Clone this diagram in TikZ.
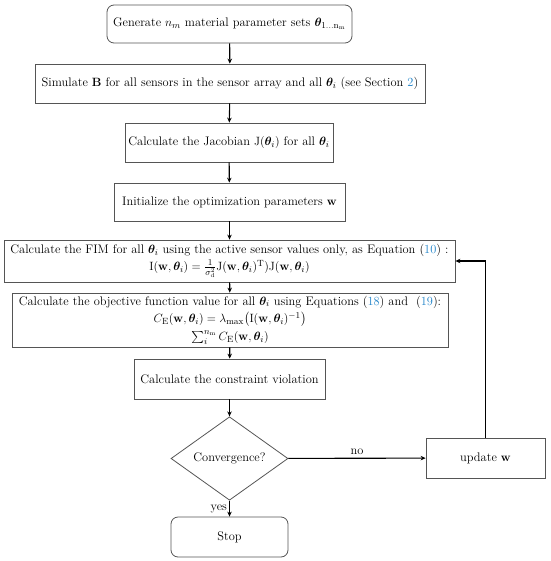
\documentclass[tikz,border=0pt]{standalone}
\usepackage{amsmath,bm}
\usetikzlibrary{arrows.meta,shapes.geometric}
\definecolor{linkblue}{RGB}{30,130,200}
\definecolor{boxgray}{RGB}{85,85,85}
\newcommand{\lnk}[1]{\textcolor{linkblue}{#1}}
\tikzset{
  base/.style={draw=boxgray, line width=0.8pt, inner sep=0pt, align=center,
    font=\fontsize{12.4}{16}\selectfont},
  procbox/.style={base, rectangle},
  roundbox/.style={base, rectangle, rounded corners=7pt},
  decision/.style={base, diamond},
  conn/.style={line width=1.1pt, -{Stealth[length=5pt,width=4.5pt]}},
  lbl/.style={font=\fontsize{12.4}{16}\selectfont, inner sep=1pt},
}
\begin{document}
\begin{tikzpicture}[x=1pt,y=-1pt]
\useasboundingbox (0,0) rectangle (550,561);
\node[roundbox, minimum width=245pt, minimum height=38pt] (gen) at (229.5,24)
  {Generate $n_m$ material parameter sets $\bm{\theta}_{1\ldots\mathrm{n_m}}$};
\node[procbox, minimum width=390pt, minimum height=39pt] (sim) at (230,83.5)
  {Simulate $\mathbf{B}$ for all sensors in the sensor array and all $\bm{\theta}_i$ (see Section \lnk{2})};
\node[procbox, minimum width=208pt, minimum height=39pt] (jac) at (229,142.5)
  {Calculate the Jacobian $\mathrm{J}(\bm{\theta}_i)$ for all $\bm{\theta}_i$};
\node[procbox, minimum width=231pt, minimum height=38pt] (init) at (229.5,202)
  {Initialize the optimization parameters $\mathbf{w}$};
\node[procbox, minimum width=451pt, minimum height=42pt] (fim) at (229.5,261)
  {Calculate the FIM for all $\bm{\theta}_i$ using the active sensor values only, as Equation (\lnk{10}) :\\[1pt]
   $\mathrm{I}(\mathbf{w},\bm{\theta}_i)=\frac{1}{\sigma_\mathrm{d}^2}\mathrm{J}(\mathbf{w},\bm{\theta}_i)^\mathrm{T})\mathrm{J}(\mathbf{w},\bm{\theta}_i)$};
\node[procbox, minimum width=436pt, minimum height=54pt] (obj) at (230,320)
  {Calculate the objective function value for all $\bm{\theta}_i$ using Equations (\lnk{18}) and\ \ (\lnk{19}):\\[1.5pt]
   $C_\mathrm{E}(\mathbf{w},\bm{\theta}_i)=\lambda_{\max}\bigl(\mathrm{I}(\mathbf{w},\bm{\theta}_i)^{-1}\bigr)$\\[2pt]
   $\sum_i^{n_\mathrm{m}} C_\mathrm{E}(\mathbf{w},\bm{\theta}_i)$};
\node[procbox, minimum width=191pt, minimum height=40pt] (con) at (229.5,379)
  {Calculate the constraint violation};
\node[decision, minimum width=117pt, minimum height=63pt] (conv) at (229.5,458.5)
  {Convergence?};
\node[procbox, minimum width=119pt, minimum height=40pt] (upd) at (485.5,458)
  {update $\mathbf{w}$};
\node[roundbox, minimum width=117pt, minimum height=40pt] (stop) at (229.5,537)
  {Stop};
\draw[conn] (gen) -- (sim);
\draw[conn] (sim) -- (jac);
\draw[conn] (jac) -- (init);
\draw[conn] (init) -- (fim);
\draw[conn] (fim) -- (obj);
\draw[conn] (obj) -- (con);
\draw[conn] (con) -- (conv);
\draw[conn] (conv) -- node[lbl, left=1pt] {yes} (stop);
\draw[conn] (conv) -- node[lbl, above=2pt] {no} (upd);
\draw[conn] (upd.north) |- (fim.east);
\end{tikzpicture}
\end{document}
